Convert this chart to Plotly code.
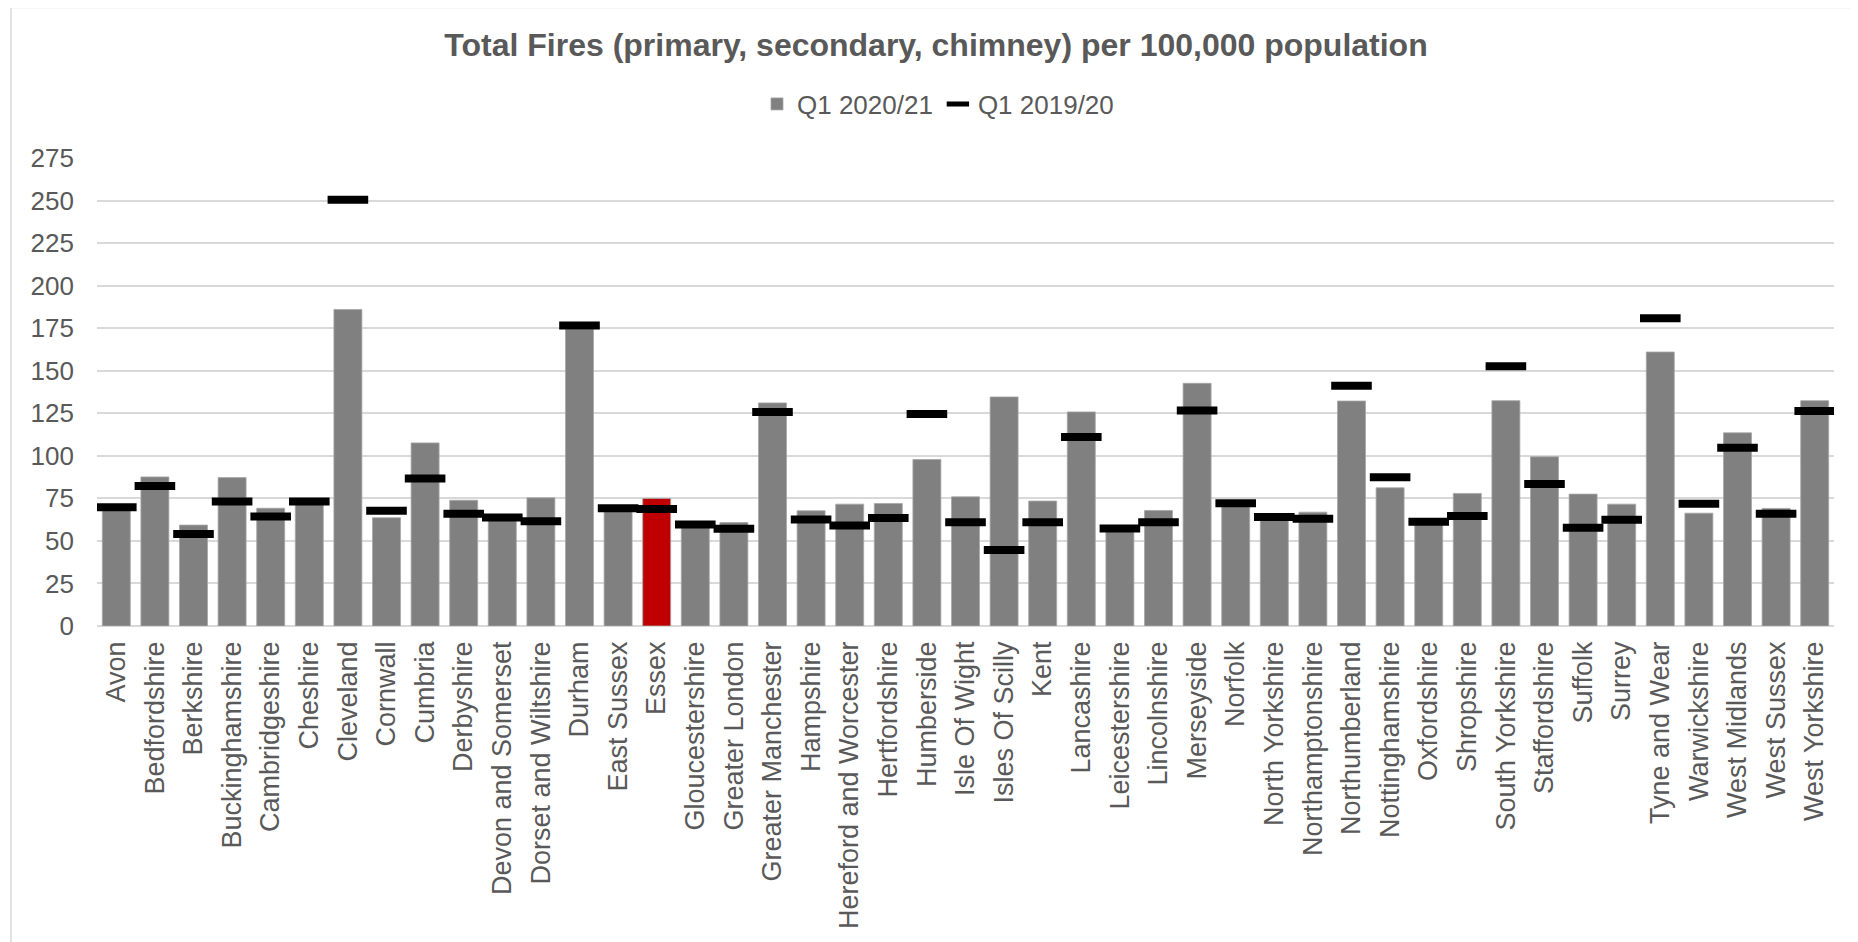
import plotly.graph_objects as go

categories = ["Avon", "Bedfordshire", "Berkshire", "Buckinghamshire", "Cambridgeshire", "Cheshire",
              "Cleveland", "Cornwall", "Cumbria", "Derbyshire", "Devon and Somerset",
              "Dorset and Wiltshire", "Durham", "East Sussex", "Essex", "Gloucestershire",
              "Greater London", "Greater Manchester", "Hampshire", "Hereford and Worcester",
              "Hertfordshire", "Humberside", "Isle Of Wight", "Isles Of Scilly", "Kent",
              "Lancashire", "Leicestershire", "Lincolnshire", "Merseyside", "Norfolk",
              "North Yorkshire", "Northamptonshire", "Northumberland", "Nottinghamshire",
              "Oxfordshire", "Shropshire", "South Yorkshire", "Staffordshire", "Suffolk",
              "Surrey", "Tyne and Wear", "Warwickshire", "West Midlands", "West Sussex",
              "West Yorkshire"]

q1_2020_21 = [68, 87.6, 59.3, 87.2, 69.2, 74.5, 186.0, 63.6, 107.6, 73.9, 62.0,
              75.3, 174.3, 67.5, 74.9, 58.5, 60.8, 131.1, 67.7, 71.6,
              72.0, 97.8, 75.9, 134.6, 73.4, 125.8, 55.8, 67.9, 142.6, 70.2,
              63.0, 66.9, 132.2, 81.2, 59.8, 77.9, 132.4, 99.4, 77.5,
              71.6, 161.0, 66.3, 113.5, 69.1, 132.4]

q1_2019_20 = [69.8, 82.2, 54.0, 73.2, 64.4, 73.2, 250.4, 67.7, 86.7, 65.9, 63.8,
              61.6, 176.6, 69.2, 68.7, 59.7, 57.1, 125.8, 62.6, 59.1,
              63.4, 124.6, 61.0, 44.6, 61.0, 111.1, 57.3, 61.0, 126.6, 72.2,
              64.0, 63.0, 141.2, 87.4, 61.2, 64.6, 152.6, 83.5, 57.7,
              62.4, 180.9, 71.8, 104.7, 65.9, 126.4]

y_ticks = [0, 25, 50, 75, 100, 125, 150, 175, 200, 225, 250, 275]

highlight = "Essex"
bar_colors = ["#C00000" if c == highlight else "#808080" for c in categories]

# page body has an 8px default margin; figure is sized to fit the window
OFF = 8
W, H = 1858 - OFF, 942 - OFF
ml = 97 - OFF
mr = 1858 - 1834
mt = 157.6 - OFF
mb = 942 - 625.7
txt = "#595959"
font_family = "Liberation Sans, Arial, sans-serif"

fig = go.Figure()
fig.add_trace(go.Bar(
    x=categories, y=q1_2020_21, name="Q1 2020/21",
    marker=dict(color=bar_colors, line=dict(color="#a6a6a6", width=0.8)),
))
fig.add_trace(go.Scatter(
    x=categories, y=q1_2019_20, name="Q1 2019/20", mode="markers",
    marker=dict(symbol="line-ew", size=29, color="black",
                line=dict(color="black", width=8)),
))

fig.update_layout(
    width=W, height=H,
    margin=dict(l=ml, r=mr, t=mt, b=mb, autoexpand=False),
    paper_bgcolor="white", plot_bgcolor="white",
    font=dict(family=font_family, size=25.6, color=txt),
    bargap=0.275,
    showlegend=True,
    title=dict(text="<b>Total Fires (primary, secondary, chimney) per 100,000 population</b>",
               x=(936 - OFF) / W, xref="container", xanchor="center",
               y=1 - (45 - OFF) / H, yref="container", yanchor="middle",
               font=dict(size=32, color=txt, family=font_family)),
    legend=dict(orientation="h", xref="container", yref="container",
                x=(938 - OFF) / W, xanchor="center", y=1 - (104 - OFF) / H, yanchor="middle",
                font=dict(size=26, color=txt), itemwidth=30,
                traceorder="normal", bgcolor="rgba(0,0,0,0)"),
    xaxis=dict(range=[-0.5, len(categories) - 0.5], tickangle=-90, showgrid=False,
               zeroline=False, showline=False,
               ticks="", ticklabelstandoff=9, tickfont=dict(size=27, color=txt),
               automargin=False),
    yaxis=dict(range=[0, 275], tickvals=y_ticks, showgrid=True, gridcolor="#d9d9d9",
               gridwidth=1.5, zeroline=True, zerolinecolor="#d9d9d9", zerolinewidth=1.5,
               showline=False, ticks="", ticklabelstandoff=22,
               tickfont=dict(size=26, color=txt), automargin=False),
)

# chart-area border and top-left rule (decorative frame), in page pixels
def px_x(v):
    return (v - OFF - ml) / (W - ml - mr)

def px_y(v):
    return 1 - (v - OFF - mt) / (H - mt - mb)

fig.add_shape(type="line", xref="paper", yref="paper",
              x0=px_x(11), x1=px_x(11), y0=px_y(7), y1=px_y(960),
              line=dict(color="#d9d9d9", width=1.5))
fig.add_shape(type="line", xref="paper", yref="paper",
              x0=px_x(11), x1=px_x(1870), y0=px_y(7), y1=px_y(7),
              line=dict(color="#d9d9d9", width=1.5))
fig.add_shape(type="line", xref="paper", yref="paper",
              x0=px_x(10), x1=px_x(149), y0=px_y(1), y1=px_y(1),
              line=dict(color="black", width=1.6))

fig.write_html("out.html")
